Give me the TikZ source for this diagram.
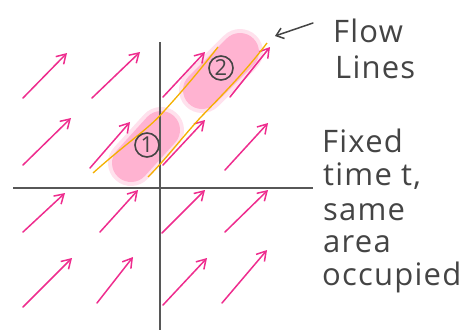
\documentclass[tikz,border=0pt]{standalone}
\usepackage{fontspec}
\setmainfont[LetterSpace=4]{Open Sans}
\usetikzlibrary{arrows.meta}
\definecolor{fieldpink}{HTML}{EE2D8E}
\definecolor{blobpink}{HTML}{FFB3D1}
\definecolor{flowor}{HTML}{F4B000}
\definecolor{ink}{HTML}{444444}
\tikzset{
  vec/.style={fieldpink, line width=1.5pt, line cap=round, -{Straight Barb[length=9pt,width=11pt,line width=1.5pt]}},
  axis/.style={ink!90, line width=2pt},
  blob/.style={blobpink, line cap=round},
  flowline/.style={flowor, line width=1.3pt},
  label/.style={ink, font=\fontsize{31}{33}\selectfont, anchor=base west, inner sep=0pt},
  num/.style={draw=ink, line width=1.6pt, circle, inner sep=1pt, minimum size=24pt, ink, font=\fontsize{22}{22}\selectfont}
}
\begin{document}
\begin{tikzpicture}[x=1pt,y=-1pt]
\useasboundingbox (0,0) rectangle (463,330);
% blobs
\foreach \o/\w in {0.4/46,1/38} {
  \draw[blob, opacity=\o, line width=\w pt] (131,163) -- (161,130);
  \draw[blob, opacity=\o, line width=\w pt] (202,90) -- (240,52);
}
% axes
\draw[axis] (160,42) -- (160,330);
\draw[axis] (13,188) -- (313,188);
% vector field
\foreach \a/\b/\c/\d in {
  23/98/67/53, 92/98/140/52, 163/97/205/52, 230/97/270/47,
  23/165/71/118, 90/168/130/122, 163/165/205/120, 225/170/268/123,
  23/232/65/193, 100/232/138/190, 162/233/205/190, 225/232/268/190,
  23/307/72/258, 97/303/133/257, 163/305/207/258, 222/303/267/250} {
  \draw[vec] (\a,\b) -- (\c,\d);
}
% flow lines
\draw[flowline] (93,173) .. controls (130,140) and (150,128) .. (165,110) .. controls (185,88) and (200,70) .. (218,47);
\draw[flowline] (148,177) .. controls (165,160) and (180,140) .. (200,118) .. controls (225,92) and (245,72) .. (267,43);
% numbers
\node[num] (c1) at (147,145) {1};
\node[num] (c2) at (221,68) {2};
% labels
\node[label] (flow) at (333,42) {Flow};
\node[label] (lines) at (335,78) {Lines};
\coordinate (ftail) at (313,23);
\draw[ink, line width=1.5pt, line cap=round, -{Straight Barb[length=7pt,width=11pt,line width=1.5pt]}] (ftail) -- (275,36);
\node[label] (fixed) at (322,152) {Fixed};
\node[label] (time) at (323,185) {time t,};
\node[label] (same) at (323,220) {same};
\node[label] (area) at (323,252) {area};
\node[label] (occ) at (322,285) {occupied};
\end{tikzpicture}
\end{document}
